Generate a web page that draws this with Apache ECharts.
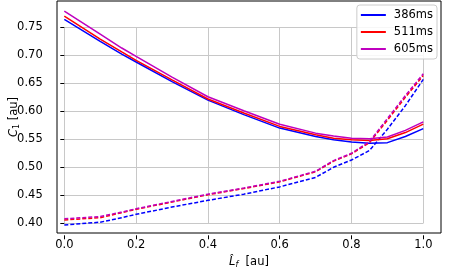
<!DOCTYPE html>
<html><head><meta charset="utf-8">
<script src="https://cdn.jsdelivr.net/npm/echarts@6/dist/echarts.min.js"></script>
<style>html,body{margin:0;padding:0;background:#fff}#c{width:449px;height:274px}</style>
</head><body><div id="c"></div>
<script>
const xs = [0, 0.1, 0.16, 0.2, 0.3, 0.4, 0.5, 0.6, 0.7, 0.75, 0.8, 0.85, 0.9, 0.95, 1.0];
const labels = ['386ms', '511ms', '605ms'];
const colors = ['#0000ff', '#ff0000', '#bf00bf'];
const solid386 = [0.764, 0.725, 0.702, 0.688, 0.653, 0.620, 0.594, 0.570, 0.555, 0.549, 0.545, 0.543, 0.544, 0.555, 0.569];
const solid511 = [0.770, 0.729, 0.706, 0.691, 0.656, 0.622, 0.597, 0.573, 0.558, 0.552, 0.549, 0.548, 0.551, 0.562, 0.577];
const solid605 = [0.779, 0.738, 0.713, 0.698, 0.661, 0.626, 0.601, 0.577, 0.561, 0.556, 0.552, 0.551, 0.554, 0.566, 0.581];
const dashed386 = [0.397, 0.402, 0.410, 0.416, 0.429, 0.441, 0.452, 0.465, 0.482, 0.500, 0.513, 0.530, 0.568, 0.610, 0.657];
const dashed511 = [0.406, 0.410, 0.419, 0.425, 0.438, 0.451, 0.462, 0.474, 0.492, 0.511, 0.524, 0.544, 0.584, 0.625, 0.664];
const dashed605 = [0.408, 0.412, 0.420, 0.426, 0.439, 0.452, 0.463, 0.475, 0.493, 0.512, 0.525, 0.546, 0.587, 0.628, 0.667];
const xTicks = [0, 0.2, 0.4, 0.6, 0.8, 1.0];
const yTicks = [0.40, 0.45, 0.50, 0.55, 0.60, 0.65, 0.70, 0.75];

const solids = [solid386, solid511, solid605];
const dashes = [dashed386, dashed511, dashed605];
const pair = (ys) => xs.map((x, i) => [x, ys[i]]);
const F = 'DejaVu Sans';
const series = [];
for (let k = 0; k < 3; k++) {
  series.push({ name: labels[k], type: 'line', xAxisIndex: 1, yAxisIndex: 1, data: pair(solids[k]),
    showSymbol: false, clip: false, color: colors[k], lineStyle: { width: 1.5, color: colors[k] }, z: 3 + k });
}
for (let k = 0; k < 3; k++) {
  series.push({ name: labels[k] + ' (dashed)', type: 'line', xAxisIndex: 1, yAxisIndex: 1, data: pair(dashes[k]),
    showSymbol: false, clip: false, color: colors[k], lineStyle: { width: 1.5, type: [4, 2], color: colors[k] }, z: 3 + k });
}
const chart = echarts.init(document.getElementById('c'), null, { renderer: 'canvas' });
chart.setOption({
  animation: false,
  backgroundColor: '#fff',
  textStyle: { fontFamily: F },
  grid: [
    { left: 47, right: 8, top: 1, bottom: 39, show: true, borderColor: '#000', borderWidth: 1, backgroundColor: 'transparent', z: 10 },
    { left: 64.3, right: 25.7, top: 27.3, bottom: 50.7 }
  ],
  xAxis: [
    { type: 'value', gridIndex: 0, min: 0, max: 1, show: true, axisLine: { show: false }, axisTick: { show: false },
      axisLabel: { show: false }, splitLine: { show: false },
      name: '{i|L̂}{s|f}  [au]', nameLocation: 'middle', nameGap: 22,
      nameTextStyle: { color: '#000', fontSize: 11.5, fontFamily: F,
        rich: { i: { fontStyle: 'italic', fontSize: 11.5, fontFamily: F, color: '#000' },
                s: { fontStyle: 'italic', fontSize: 8, fontFamily: F, color: '#000', verticalAlign: 'bottom', padding: [6, 0, 0, 0] } } } },
    { type: 'value', gridIndex: 1, min: 0, max: 1, interval: 0.2, offset: 12,
      axisLine: { show: false }, axisTick: { show: true, length: 4, lineStyle: { color: '#000' } },
      axisLabel: { color: '#000', fontSize: 11.5, fontFamily: F, margin: 4, formatter: v => v.toFixed(1) },
      splitLine: { show: true, lineStyle: { color: '#c8c8c8', width: 1 } } }
  ],
  yAxis: [
    { type: 'value', gridIndex: 0, min: 0, max: 1, axisLine: { show: false }, axisTick: { show: false },
      axisLabel: { show: false }, splitLine: { show: false },
      name: '{i|C}{s|1} [au]', nameLocation: 'middle', nameGap: 36, nameRotate: 90,
      nameTextStyle: { color: '#000', fontSize: 11.5, fontFamily: F,
        rich: { i: { fontStyle: 'italic', fontSize: 11.5, fontFamily: F, color: '#000' },
                s: { fontSize: 8, fontFamily: F, color: '#000', verticalAlign: 'bottom', padding: [6, 0, 0, 0] } } } },
    { type: 'value', gridIndex: 1, min: 0.40, max: 0.75, interval: 0.05, offset: 17.6,
      axisLine: { show: false }, axisTick: { show: true, length: 4, lineStyle: { color: '#000' } },
      axisLabel: { color: '#000', fontSize: 11.5, fontFamily: F, margin: 4, formatter: v => v.toFixed(2) },
      splitLine: { show: true, lineStyle: { color: '#c8c8c8', width: 1 } } }
  ],
  legend: {
    orient: 'vertical', right: 12, top: 5,
    data: labels.map((n, k) => ({ name: n, icon: 'rect', itemStyle: { color: colors[k] } })),
    itemWidth: 25, itemHeight: 2, itemGap: 3,
    textStyle: { fontSize: 11.5, fontFamily: F, color: '#000', lineHeight: 14, padding: [0, 0, 0, 3] },
    backgroundColor: 'rgba(255,255,255,0.85)', borderColor: '#cccccc', borderWidth: 1, borderRadius: 3,
    padding: [3, 4, 3, 4], z: 20
  },
  series: series
});
</script></body></html>
